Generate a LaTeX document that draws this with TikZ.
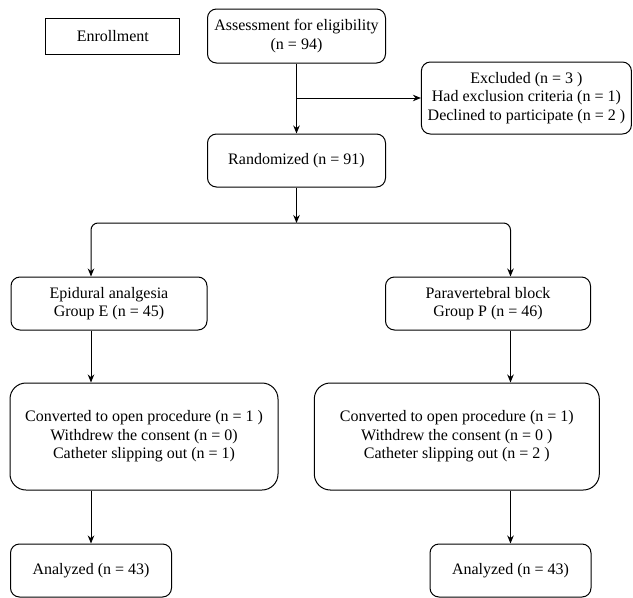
\documentclass[tikz,border=0pt]{standalone}
\usepackage{fontspec}
\setmainfont{Liberation Serif}
\usetikzlibrary{arrows.meta}
\begin{document}
\begin{tikzpicture}[x=1pt,y=-1pt,
  box/.style={draw,line width=1pt,rounded corners=9pt,align=center,inner sep=0pt,
    font=\fontsize{16}{18.5}\selectfont},
  bigbox/.style={box,rounded corners=16pt},
  arr/.style={-{Stealth[length=8pt,width=6.5pt]},line width=1pt}]
\useasboundingbox (0,0) rectangle (633,598);
\def\h{53pt}

% enrollment part
\node[box,rounded corners=0pt,minimum width=134pt,minimum height=36pt] (enroll) at (112.8,36) {Enrollment};
\node[box,minimum width=178pt,minimum height=54pt] (assess) at (296.5,36)
  {Assessment for eligibility\\(n = 94)};
\node[box,minimum width=210pt,minimum height=72pt] (excl) at (526.4,98)
  {Excluded (n = 3 )\\Had exclusion criteria (n = 1)\\Declined to participate (n = 2 )};
\node[box,minimum width=178pt,minimum height=\h] (rand) at (296.5,160.5) {Randomized (n = 91)};

% the two groups
\node[box,minimum width=196pt,minimum height=\h] (epi) at (109,303.5)
  {Epidural analgesia\\Group E (n = 45)};
\node[box,minimum width=205pt,minimum height=\h] (para) at (488,303.5)
  {Paravertebral block\\Group P (n = 46)};
\node[bigbox,minimum width=268pt,minimum height=107pt] (convE) at (144,436.5)
  {Converted to open procedure (n = 1 )\\Withdrew the consent (n = 0)\\Catheter slipping out (n = 1)};
\node[bigbox,minimum width=285pt,minimum height=107pt] (convP) at (456.8,436.5)
  {Converted to open procedure (n = 1)\\Withdrew the consent (n = 0 )\\Catheter slipping out (n = 2 )};
\node[box,minimum width=161pt,minimum height=\h] (anaE) at (91,570.5) {Analyzed (n = 43)};
\node[box,minimum width=161pt,minimum height=\h] (anaP) at (510.5,570.5) {Analyzed (n = 43)};

% arrows
\draw[arr] (assess) -- (rand);
\draw[arr] (assess.south |- excl.west) -- (excl.west);
\coordinate (split) at (296.5,223);
\draw[arr] (rand) -- (split);
\draw[arr,rounded corners=7pt] (split) -| (epi.north -| anaE);
\draw[arr,rounded corners=7pt] (split) -| (para.north -| anaP);
\draw[arr] (epi.south -| anaE) -- (convE.north -| anaE);
\draw[arr] (convE.south -| anaE) -- (anaE);
\draw[arr] (para.south -| anaP) -- (convP.north -| anaP);
\draw[arr] (convP.south -| anaP) -- (anaP);
\end{tikzpicture}
\end{document}
